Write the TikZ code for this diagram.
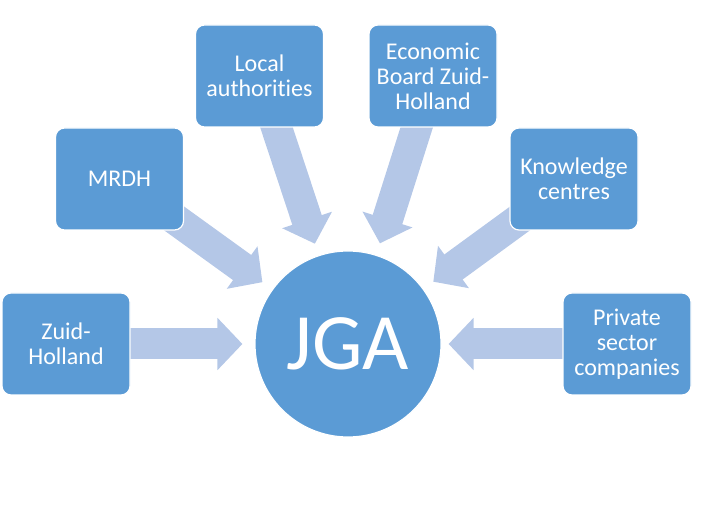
\documentclass[tikz,border=0pt]{standalone}
\usepackage{fontspec}
\setmainfont{Carlito}[Ligatures={NoCommon}]
\usetikzlibrary{arrows.meta,backgrounds}
\definecolor{boxblue}{HTML}{5B9BD5}
\definecolor{flowblue}{HTML}{B4C7E7}
\tikzset{
  actor/.style={rectangle, rounded corners=9pt, fill=boxblue, draw=white,
    line width=1.2pt, minimum width=128pt, minimum height=102pt,
    text=white, align=center, font=\fontsize{24}{25}\selectfont},
  hub/.style={circle, fill=boxblue, draw=white, line width=1.2pt,
    minimum size=186pt, inner sep=0pt, text=white,
    font=\fontsize{80}{80}\selectfont},
  flow/.style={draw=flowblue, line width=31pt,
    -{Triangle[length=25pt,width=51pt]}, shorten >=12pt}
}

\begin{document}
\begin{tikzpicture}[x=1pt,y=1pt]
\useasboundingbox (0,0) rectangle (708,516);

% the hub in the middle
\node[hub] (jga) at (348,172) {JGA};

% the partners around it
\node[actor] (zh)    at (66,172)    {Zuid-\\Holland};
\node[actor] (mrdh)  at (119.5,337) {MRDH};
\node[actor] (local) at (259.5,440) {Local\\authorities};
\node[actor] (ebzh)  at (433,440)   {Economic\\Board Zuid-\\Holland};
\node[actor] (kc)    at (574,337)   {Knowledge\\centres};
\node[actor] (psc)   at (627,172)   {Private\\sector\\companies};

% block arrows into the hub
\begin{pgfonlayer}{background}% behind the boxes
  \foreach \src in {zh,mrdh,local,ebzh,kc}
    \draw[flow] (\src.center) -- (jga);
  \draw[flow, shorten >=7pt] (psc.center) -- (jga);
\end{pgfonlayer}

\end{tikzpicture}
\end{document}
